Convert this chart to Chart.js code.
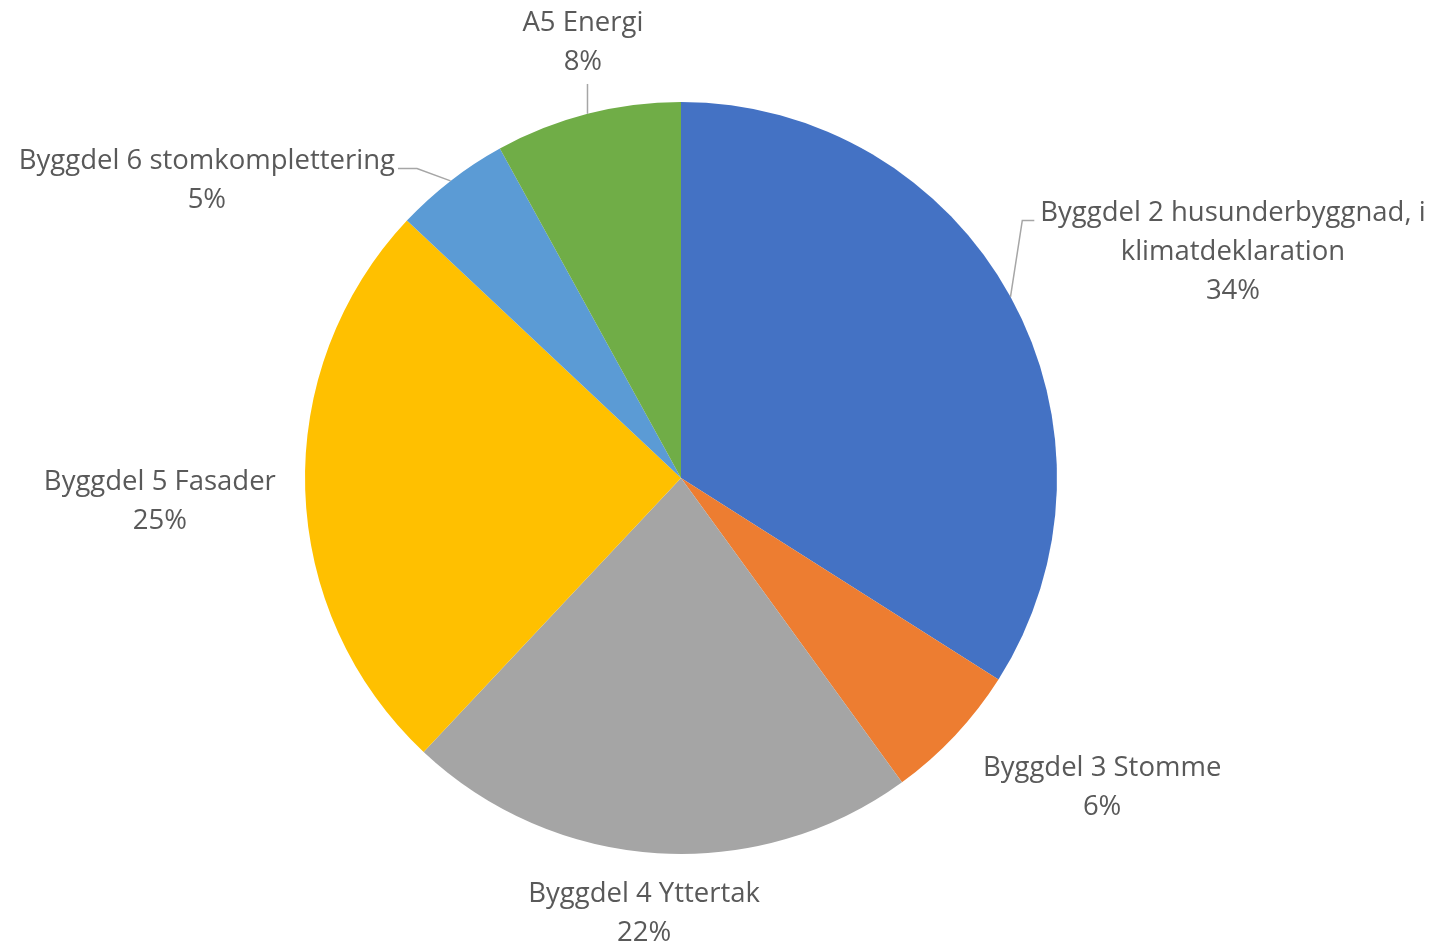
<!DOCTYPE html>
<html>
<head>
<meta charset="utf-8">
<script src="https://cdn.jsdelivr.net/npm/chart.js@4"></script>
<style>
  html, body { margin: 0; padding: 0; background: #ffffff; }
  canvas { display: block; }
</style>
</head>
<body>
<canvas id="pieChart" width="1435" height="948"></canvas>
<script>
// Klimatpåverkan per byggdel (andel, %)
var categories = [
    ['Byggdel 2 husunderbyggnad, i', 'klimatdeklaration'],
    ['Byggdel 3 Stomme'],
    ['Byggdel 4 Yttertak'],
    ['Byggdel 5 Fasader'],
    ['Byggdel 6 stomkomplettering'],
    ['A5 Energi']
];
var shares = [34, 6, 22, 25, 5, 8];
var sliceColors = ['#4472C4', '#ED7D31', '#A5A5A5', '#FFC000', '#5B9BD5', '#70AD47'];

// label centre relative to the pie centre, in units of the radius
var labelOffsets = [
    [1.468, -0.600],
    [1.120, 0.824],
    [-0.098, 1.159],
    [-1.386, 0.064],
    [-1.261, -0.790],
    [-0.261, -1.157]
];
var leaderLines = [true, false, false, false, true, true];

var FONT_SIZE = 27.5;
var LINE_H = 39;
var FONT = FONT_SIZE + 'px "Open Sans", Lato, sans-serif';

var pieLabels = {
    id: 'pieLabels',
    afterDatasetsDraw: function (chart) {
        var ctx = chart.ctx;
        var meta = chart.getDatasetMeta(0);
        var total = shares.reduce(function (a, b) { return a + b; }, 0);
        ctx.save();
        ctx.font = FONT;
        ctx.fillStyle = '#595959';
        ctx.textAlign = 'center';
        ctx.textBaseline = 'middle';

        meta.data.forEach(function (arc, i) {
            var p = arc.getProps(['x', 'y', 'startAngle', 'endAngle', 'outerRadius'], true);
            var r = p.outerRadius;
            var lines = categories[i].concat([Math.round(shares[i] / total * 100) + '%']);
            var cx = p.x + labelOffsets[i][0] * r;
            var cy = p.y + labelOffsets[i][1] * r;
            var w = 0;
            lines.forEach(function (t) { w = Math.max(w, ctx.measureText(t).width); });
            var h = lines.length * LINE_H;
            var top = cy - h / 2;

            lines.forEach(function (t, k) {
                ctx.fillText(t, cx, top + LINE_H * (k + 0.5));
            });

            if (leaderLines[i]) {
                var mid = (p.startAngle + p.endAngle) / 2;
                var ex = p.x + Math.cos(mid) * r;
                var ey = p.y + Math.sin(mid) * r;
                var firstY = top + LINE_H * 0.5 + 7;
                ctx.beginPath();
                ctx.strokeStyle = '#A6A6A6';
                ctx.lineWidth = 1.5;
                ctx.moveTo(ex, ey);
                if (cx - w / 2 > ex) {
                    ctx.lineTo(cx - w / 2 - 18, firstY);
                    ctx.lineTo(cx - w / 2 - 6, firstY);
                } else if (cx + w / 2 < ex) {
                    ctx.lineTo(cx + w / 2 + 22, firstY);
                    ctx.lineTo(cx + w / 2 + 3, firstY);
                } else {
                    ctx.lineTo(ex, top + h + 2);
                }
                ctx.stroke();
            }
        });
        ctx.restore();
    }
};

var ctxPieChart = document.getElementById('pieChart').getContext('2d');
var pieChart = new Chart(ctxPieChart, {
    type: 'pie',
    data: {
        labels: categories.map(function (c) { return c.join(' '); }),
        datasets: [{
            data: shares,
            backgroundColor: sliceColors,
            borderWidth: 0
        }]
    },
    options: {
        responsive: false,
        animation: false,
        layout: {
            padding: { left: 305, right: 378, top: 102, bottom: 94 }
        },
        plugins: {
            legend: { display: false },
            tooltip: { enabled: false }
        }
    },
    plugins: [pieLabels]
});
</script>
</body>
</html>
